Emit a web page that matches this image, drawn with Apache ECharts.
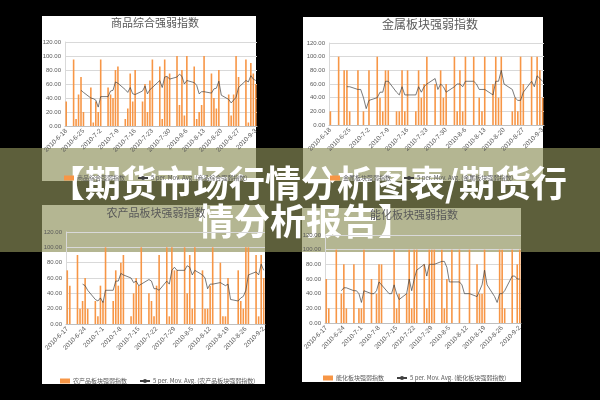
<!DOCTYPE html>
<html>
<head>
<meta charset="utf-8">
<script src="https://cdn.jsdelivr.net/npm/echarts@6/dist/echarts.min.js"></script>
<style>
html,body{margin:0;padding:0;background:#000;}
#chart{width:600px;height:400px;}
</style>
</head>
<body>
<div id="chart"></div>
<script>
// 日期范围 (日历轴), 数值只落在工作日上
const topRange = ['2010-06-18', '2010-09-03']
const bottomRange = ['2010-06-17', '2010-09-02']

// 商品综合强弱指数 (6-18 起每个交易日)
const commodityIdx = [35,
  95,10,45,70,20, 55,5,35,20,95, 55,45,40,80,85, 10,25,75,35,80,
  35,60,20,65,95, 85,10,95,70,75, 100,30,80,15,100, 85,10,20,30,100,
  75,40,25,80,0, 45,15,45,100,70, 95,5,90,75,60]
const commodityMA = [null,
  null,null,null,51,48, 40,39,37,27,42, 42,50,51,63,61, 52,48,55,46,45,
  50,57,46,52,55, 65,55,70,71,67, 70,74,71,60,65, 62,58,46,49,49,
  47,53,54,64,44, 38,33,37,41,55, 65,63,72,67,65]

// 金属板块强弱指数
const metalIdx = [20,
  100,0,80,80,20, 80,0,20,0,80, 100,40,20,80,80, 20,20,80,20,80,
  20,80,40,60,100, 60,0,80,40,60, 100,20,80,20,100, 100,0,40,20,100,
  60,100,40,100,0, 20,40,20,100,60, 100,0,100,80,40]
const metalMA = [null,
  null,null,null,56,56, 52,52,40,24,36, 40,48,48,64,64, 48,44,56,44,44,
  44,56,48,56,60, 68,52,60,56,48, 56,60,60,56,64, 64,60,52,52,52,
  44,64,64,80,60, 52,40,36,36,48, 64,56,72,68,64]

// 农产品板块强弱指数 (6-17 起)
const agriIdx = [70,50,
  90,20,30,60,20, 30,10,50,30,100, 30,70,50,80,90, 10,40,60,50,100,
  40,30,10,50,90, 100,10,100,70,70, 100,40,90,20,100, 70,20,20,50,100,
  80,10,10,60,0, 70,30,20,100,100, 90,10,90,60]
const agriMA = [null,null,
  null,null,52,50,44, 32,30,34,28,44, 44,56,56,66,64, 60,54,56,50,52,
  58,56,46,46,44, 56,52,70,74,70, 70,76,74,64,70, 64,60,46,52,52,
  54,52,50,52,32, 30,34,36,44,64, 68,64,78,70]

// 能化板块强弱指数
const energyIdx = [60,20,
  100,0,40,80,20, 80,0,20,20,100, 60,0,40,80,80, 0,0,100,20,40,
  40,100,20,100,100, 80,20,100,100,100, 100,20,60,0,100, 100,0,0,0,100,
  80,40,40,100,0, 0,0,100,100,20, 100,0,80,100]
const energyMA = [null,null,
  null,null,44,48,48, 44,44,40,28,44, 40,40,44,56,52, 40,40,52,40,32,
  40,60,44,60,72, 80,64,80,80,80, 84,84,76,56,56, 56,52,40,40,40,
  36,44,52,72,52, 36,28,40,40,44, 64,64,60,60]

const yTicks = [0, 20, 40, 60, 80, 100, 120]

function calendar(range) {
  const out = []
  const d = new Date(range[0] + 'T00:00:00Z')
  const end = new Date(range[1] + 'T00:00:00Z')
  while (d <= end) {
    out.push(new Date(d))
    d.setUTCDate(d.getUTCDate() + 1)
  }
  return out
}
function dayLabel(d) {
  return d.getUTCFullYear() + '-' + (d.getUTCMonth() + 1) + '-' + d.getUTCDate()
}
// 把交易日数组放到日历上, 周末为空
function onCalendar(days, values) {
  let k = 0
  return days.map(d => {
    const wd = d.getUTCDay()
    if (wd === 0 || wd === 6) return null
    const v = values[k++]
    return v === undefined ? null : v
  })
}

const topDays = calendar(topRange)
const bottomDays = calendar(bottomRange)

const panels = [
  {name: '商品综合强弱指数', days: topDays, bars: commodityIdx, ma: commodityMA,
   grid: {left: 65, top: 42, width: 192, height: 84},
   title: {x: 155, y: 17, size: 11}, legend: {x: 64, y: 175}},
  {name: '金属板块强弱指数', days: topDays, bars: metalIdx, ma: metalMA,
   grid: {left: 329, top: 43, width: 215, height: 82},
   title: {x: 430, y: 18, size: 12}, legend: {x: 330, y: 175}},
  {name: '农产品板块强弱指数', days: bottomDays, bars: agriIdx, ma: agriMA,
   grid: {left: 66, top: 232, width: 199, height: 92},
   title: {x: 156, y: 207, size: 11}, legend: {x: 60, y: 378}},
  {name: '能化板块强弱指数', days: bottomDays, bars: energyIdx, ma: energyMA,
   grid: {left: 325, top: 235, width: 196, height: 88},
   title: {x: 414, y: 209, size: 11}, legend: {x: 323, y: 375}}
]

const chart = echarts.init(document.getElementById('chart'), null, {renderer: 'canvas'})

const option = {
  backgroundColor: '#000',
  animation: false,
  title: [],
  legend: [],
  grid: [],
  xAxis: [],
  yAxis: [],
  series: [],
  graphic: []
}

// 白色图表底板
const boards = [
  [42, 16, 214, 165],
  [303, 17, 240, 164],
  [42, 205, 223, 179],
  [302, 208, 219, 174]
]
boards.forEach(b => {
  option.graphic.push({
    type: 'rect', z: -10, silent: true,
    shape: {x: b[0], y: b[1], width: b[2], height: b[3]},
    style: {fill: '#fff'}
  })
})

panels.forEach((p, i) => {
  const maName = '5 per. Mov. Avg. (' + p.name + ')'
  option.grid.push(Object.assign({containLabel: false}, p.grid))
  option.title.push({
    text: p.name, left: p.title.x, top: p.title.y, textAlign: 'center', padding: 0,
    textStyle: {fontFamily: 'Noto Sans CJK SC', fontWeight: 'normal', fontSize: p.title.size, color: '#595959'}
  })
  option.legend.push({
    left: p.legend.x, top: p.legend.y, padding: 0, itemGap: 12,
    itemWidth: 10, itemHeight: 5,
    data: [{name: p.name, icon: 'rect'}, {name: maName}],
    textStyle: {fontSize: 6, color: '#595959', fontFamily: 'Noto Sans CJK SC', padding: [0, 0, 0, -2]}
  })
  option.xAxis.push({
    type: 'category', gridIndex: i,
    data: p.days.map(dayLabel),
    axisLine: {lineStyle: {color: '#bfbfbf'}},
    axisTick: {show: false},
    axisLabel: {interval: 6, rotate: 45, fontSize: 6.5, color: '#595959', margin: 4, fontFamily: 'Liberation Sans'}
  })
  option.yAxis.push({
    type: 'value', gridIndex: i, min: yTicks[0], max: yTicks[yTicks.length - 1], interval: 20,
    axisLine: {show: true, lineStyle: {color: '#d9d9d9'}},
    axisTick: {show: false},
    splitLine: {lineStyle: {color: '#d9d9d9'}},
    axisLabel: {fontSize: 6, color: '#595959', margin: 4, fontFamily: 'Liberation Sans',
      formatter: v => v.toFixed(2)}
  })
  option.series.push({
    name: p.name, type: 'bar', xAxisIndex: i, yAxisIndex: i,
    data: onCalendar(p.days, p.bars),
    barWidth: 1.6,
    itemStyle: {color: '#f79646'}
  })
  option.series.push({
    name: maName, type: 'line', xAxisIndex: i, yAxisIndex: i,
    data: onCalendar(p.days, p.ma),
    connectNulls: true, symbol: 'none',
    lineStyle: {color: '#404040', width: 0.7},
    itemStyle: {color: '#404040'}
  })
})

// 半透明标题横幅
option.graphic.push({
  type: 'group', z: 100,
  children: [
    {type: 'rect', shape: {x: 0, y: 148, width: 600, height: 104},
     style: {fill: 'rgba(141,144,89,0.66)'}},
    {type: 'text', x: 308, y: 183,
     style: {text: '【期货市场行情分析图表/期货行', fill: '#fff', align: 'center', verticalAlign: 'middle',
       font: 'bold 36px "Noto Sans CJK SC"', shadowBlur: 3, shadowColor: 'rgba(0,0,0,0.35)'}},
    {type: 'text', x: 306, y: 221,
     style: {text: '情分析报告】', fill: '#fff', align: 'center', verticalAlign: 'middle',
       font: 'bold 36px "Noto Sans CJK SC"', shadowBlur: 3, shadowColor: 'rgba(0,0,0,0.35)'}}
  ]
})

chart.setOption(option)
</script>
</body>
</html>
